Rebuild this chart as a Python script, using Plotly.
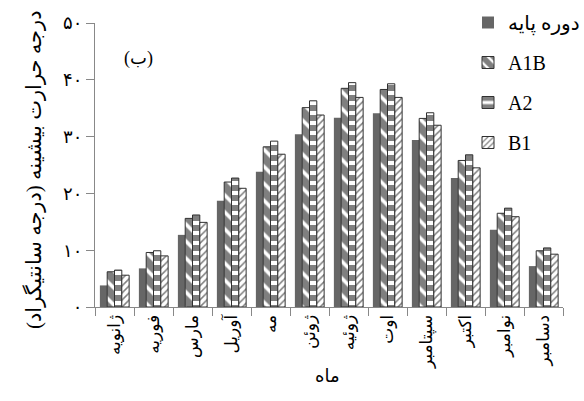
import plotly.graph_objects as go

months = ["ژانویه", "فوریه", "مارس", "آوریل", "مه", "ژوئن",
          "ژوئیه", "اوت", "سپتامبر", "اکتبر", "نوامبر", "دسامبر"]
base = [3.8, 6.8, 12.7, 18.7, 23.8, 30.4, 33.3, 34.1, 29.4, 22.7, 13.6, 7.2]
a1b = [6.2, 9.6, 15.6, 22.0, 28.2, 35.1, 38.5, 38.3, 33.2, 25.8, 16.5, 9.9]
a2 = [6.5, 9.9, 16.2, 22.7, 29.2, 36.3, 39.5, 39.3, 34.2, 26.8, 17.4, 10.4]
b1 = [5.6, 9.0, 14.9, 20.9, 26.9, 33.8, 36.9, 36.9, 32.0, 24.5, 15.9, 9.3]
ytickvals = [0, 10, 20, 30, 40, 50]
yticktext = ["۰", "۱۰", "۲۰", "۳۰", "۴۰", "۵۰"]
names = ["دوره پایه", "A1B", "A2", "B1"]

fig = go.Figure()
fig.add_trace(go.Bar(x=months, y=base, name=names[0], legendgroup="g0",
                     marker=dict(color="#666666", line=dict(width=0))))
fig.add_trace(go.Bar(x=months, y=a1b, name=names[1], legendgroup="g1",
                     marker=dict(color="white", line=dict(color="#303030", width=1),
                                 pattern=dict(shape="\\", fgcolor="black", bgcolor="white",
                                              size=12, solidity=0.7))))
fig.add_trace(go.Bar(x=months, y=a2, name=names[2], legendgroup="g2",
                     marker=dict(color="white", line=dict(color="#303030", width=1),
                                 pattern=dict(shape="-", fgcolor="black", bgcolor="white",
                                              size=10, solidity=0.6))))
fig.add_trace(go.Bar(x=months, y=b1, name=names[3], legendgroup="g3",
                     marker=dict(color="white", line=dict(color="#303030", width=1),
                                 pattern=dict(shape="/", fgcolor="black", bgcolor="white",
                                              size=5, solidity=0.3))))

fig.update_layout(
    width=584, height=401,
    margin=dict(l=95, r=21, t=23, b=94, autoexpand=False),
    paper_bgcolor="white", plot_bgcolor="white",
    barmode="group", bargap=0.25, bargroupgap=0,
    font=dict(family="Liberation Serif, DejaVu Sans", color="black"),
    legend=dict(x=(468 - 95) / 468, y=(307 - 3) / 284, xanchor="left", yanchor="top",
                font=dict(size=20, family="Liberation Serif, DejaVu Sans"),
                tracegroupgap=11, traceorder="grouped", bgcolor="rgba(0,0,0,0)"),
    xaxis=dict(showline=True, linecolor="#888888", linewidth=1,
               ticks="outside", ticklen=8, tickcolor="#888888", tickson="boundaries",
               tickangle=-90, tickfont=dict(size=17), showgrid=False),
    yaxis=dict(range=[0, 50], showline=True, linecolor="#888888", linewidth=1,
               ticks="outside", ticklen=8, tickcolor="#888888",
               tickvals=ytickvals, ticktext=yticktext, tickfont=dict(size=18),
               showgrid=False, zeroline=False),
    showlegend=True,
)
fig.add_annotation(text="(ب)", x=(122 - 95) / 468, y=(307 - 46) / 284, xref="paper", yref="paper",
                   showarrow=False, font=dict(size=18))
fig.add_annotation(text="ماه", x=(327 - 95) / 468, y=(307 - 388) / 284, xref="paper", yref="paper",
                   showarrow=False, font=dict(size=18))
fig.add_annotation(text="درجه حرارت بیشینه (درجه سانتیگراد)", x=(20 - 95) / 468,
                   y=(307 - 170) / 284,
                   xref="paper", yref="paper", showarrow=False, textangle=-90,
                   font=dict(size=21))

fig.write_html("out.html")
